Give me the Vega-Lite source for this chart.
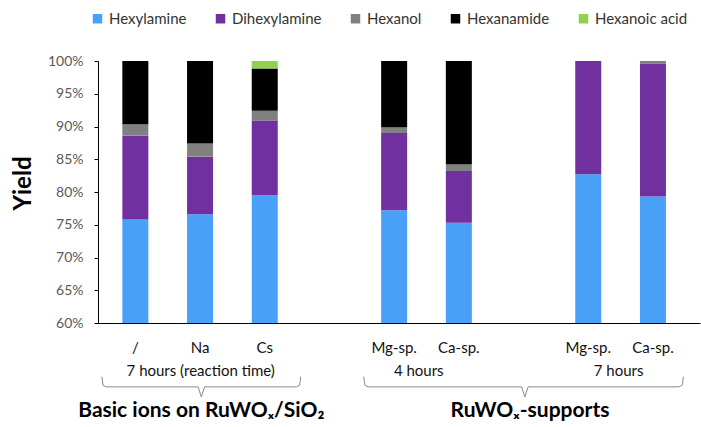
{
  "$schema": "https://vega.github.io/schema/vega-lite/v6.json",
  "width": 602,
  "height": 262,
  "autosize": "none",
  "padding": {"left": 98, "top": 61, "right": 1, "bottom": 104},
  "config": {
    "view": {"stroke": null},
    "font": "Lato",
    "axisX": {"labels": false, "ticks": false, "grid": false, "domainColor": "#000000", "domainWidth": 1},
    "axisY": {"labelOverlap": false, "grid": false, "domainColor": "#000000", "tickColor": "#000000", "tickSize": 4,
      "labelColor": "#595959", "labelFontSize": 14, "labelPadding": 11,
      "titleFontSize": 24, "titleFontWeight": "bold", "titleColor": "#000000", "titlePadding": 12, "titleY": 122}
  },
  "datasets": {
    "bars": [
      {"sample": "/", "x": 1, "compound": "Hexylamine", "yield": 75.8},
      {"sample": "/", "x": 1, "compound": "Dihexylamine", "yield": 12.8},
      {"sample": "/", "x": 1, "compound": "Hexanol", "yield": 1.75},
      {"sample": "/", "x": 1, "compound": "Hexanamide", "yield": 9.65},
      {"sample": "Na", "x": 2, "compound": "Hexylamine", "yield": 76.6},
      {"sample": "Na", "x": 2, "compound": "Dihexylamine", "yield": 8.8},
      {"sample": "Na", "x": 2, "compound": "Hexanol", "yield": 2.0},
      {"sample": "Na", "x": 2, "compound": "Hexanamide", "yield": 12.6},
      {"sample": "Cs", "x": 3, "compound": "Hexylamine", "yield": 79.5},
      {"sample": "Cs", "x": 3, "compound": "Dihexylamine", "yield": 11.4},
      {"sample": "Cs", "x": 3, "compound": "Hexanol", "yield": 1.5},
      {"sample": "Cs", "x": 3, "compound": "Hexanamide", "yield": 6.45},
      {"sample": "Cs", "x": 3, "compound": "Hexanoic acid", "yield": 1.15},
      {"sample": "Mg-sp.", "x": 5, "compound": "Hexylamine", "yield": 77.2},
      {"sample": "Mg-sp.", "x": 5, "compound": "Dihexylamine", "yield": 11.8},
      {"sample": "Mg-sp.", "x": 5, "compound": "Hexanol", "yield": 0.9},
      {"sample": "Mg-sp.", "x": 5, "compound": "Hexanamide", "yield": 10.1},
      {"sample": "Ca-sp.", "x": 6, "compound": "Hexylamine", "yield": 75.3},
      {"sample": "Ca-sp.", "x": 6, "compound": "Dihexylamine", "yield": 7.9},
      {"sample": "Ca-sp.", "x": 6, "compound": "Hexanol", "yield": 1.05},
      {"sample": "Ca-sp.", "x": 6, "compound": "Hexanamide", "yield": 15.75},
      {"sample": "Mg-sp.", "x": 8, "compound": "Hexylamine", "yield": 82.7},
      {"sample": "Mg-sp.", "x": 8, "compound": "Dihexylamine", "yield": 17.3},
      {"sample": "Ca-sp.", "x": 9, "compound": "Hexylamine", "yield": 79.3},
      {"sample": "Ca-sp.", "x": 9, "compound": "Dihexylamine", "yield": 20.3},
      {"sample": "Ca-sp.", "x": 9, "compound": "Hexanol", "yield": 0.4}
    ],
    "groups": [
      {"x": 2.01, "label": "7 hours (reaction time)"},
      {"x": 5.38, "label": "4 hours"},
      {"x": 8.47, "label": "7 hours"}
    ],
    "big": [
      {"x": 2.02, "label": "Basic ions on RuWOₓ/SiO₂"},
      {"x": 7.1, "label": "RuWOₓ-supports"}
    ],
    "braces": [
      {"b": 1, "i": 0, "x": 0.483, "y": 51.8},
      {"b": 1, "i": 1, "x": 0.5, "y": 50.5},
      {"b": 1, "i": 2, "x": 0.55, "y": 50.25},
      {"b": 1, "i": 3, "x": 1.97, "y": 50.25},
      {"b": 1, "i": 4, "x": 2.02, "y": 48.7},
      {"b": 1, "i": 5, "x": 2.07, "y": 50.25},
      {"b": 1, "i": 6, "x": 3.49, "y": 50.25},
      {"b": 1, "i": 7, "x": 3.54, "y": 50.5},
      {"b": 1, "i": 8, "x": 3.555, "y": 51.8},
      {"b": 2, "i": 0, "x": 4.53, "y": 51.8},
      {"b": 2, "i": 1, "x": 4.547, "y": 50.5},
      {"b": 2, "i": 2, "x": 4.6, "y": 50.25},
      {"b": 2, "i": 3, "x": 6.97, "y": 50.25},
      {"b": 2, "i": 4, "x": 7.02, "y": 48.7},
      {"b": 2, "i": 5, "x": 7.07, "y": 50.25},
      {"b": 2, "i": 6, "x": 9.4, "y": 50.25},
      {"b": 2, "i": 7, "x": 9.453, "y": 50.5},
      {"b": 2, "i": 8, "x": 9.47, "y": 51.8}
    ]
  },
  "layer": [
    {
      "data": {"name": "bars"},
      "transform": [
        {"calculate": "indexof(['Hexylamine','Dihexylamine','Hexanol','Hexanamide','Hexanoic acid'], datum.compound)", "as": "ord"}
      ],
      "mark": {"type": "bar", "size": 26, "clip": true},
      "encoding": {
        "x": {"field": "x", "type": "quantitative",
          "scale": {"domain": [0.5, 9.65], "nice": false, "zero": false},
          "axis": {"title": null}},
        "y": {"field": "yield", "type": "quantitative", "stack": "zero",
          "scale": {"domain": [60, 100], "nice": false, "zero": false},
          "axis": {"title": "Yield", "values": [60, 65, 70, 75, 80, 85, 90, 95, 100], "labelExpr": "datum.value + '%'"}},
        "color": {
          "field": "compound", "type": "nominal",
          "scale": {
            "domain": ["Hexylamine", "Dihexylamine", "Hexanol", "Hexanamide", "Hexanoic acid"],
            "range": ["#48A0F8", "#7030A0", "#808080", "#000000", "#92D050"]
          },
          "legend": {
            "orient": "none", "direction": "horizontal", "legendX": -8, "legendY": -50,
            "title": null, "symbolType": "square", "symbolSize": 90, "symbolStrokeWidth": 0,
            "labelFontSize": 15, "labelColor": "#333333", "columnPadding": 26, "labelOffset": 4
          }
        },
        "order": {"field": "ord", "type": "quantitative"}
      }
    },
    {
      "data": {"name": "bars"},
      "transform": [{"filter": "datum.compound === 'Hexylamine'"}],
      "mark": {"type": "text", "fontSize": 15, "color": "#111111", "baseline": "middle"},
      "encoding": {
        "x": {"field": "x", "type": "quantitative",
          "scale": {"domain": [0.5, 9.65], "nice": false, "zero": false},
          "axis": {"title": null}},
        "y": {"datum": 56.2, "type": "quantitative",
          "scale": {"domain": [60, 100], "nice": false, "zero": false},
          "axis": {"title": "Yield", "values": [60, 65, 70, 75, 80, 85, 90, 95, 100], "labelExpr": "datum.value + '%'"}},
        "text": {"field": "sample"}
      }
    },
    {
      "data": {"name": "groups"},
      "mark": {"type": "text", "fontSize": 15, "color": "#111111", "baseline": "middle"},
      "encoding": {
        "x": {"field": "x", "type": "quantitative",
          "scale": {"domain": [0.5, 9.65], "nice": false, "zero": false},
          "axis": {"title": null}},
        "y": {"datum": 52.6, "type": "quantitative",
          "scale": {"domain": [60, 100], "nice": false, "zero": false},
          "axis": {"title": "Yield", "values": [60, 65, 70, 75, 80, 85, 90, 95, 100], "labelExpr": "datum.value + '%'"}},
        "text": {"field": "label"}
      }
    },
    {
      "data": {"name": "braces"},
      "mark": {"type": "line", "color": "#8a8a8a", "strokeWidth": 1},
      "encoding": {
        "x": {"field": "x", "type": "quantitative",
          "scale": {"domain": [0.5, 9.65], "nice": false, "zero": false},
          "axis": {"title": null}},
        "y": {"field": "y", "type": "quantitative",
          "scale": {"domain": [60, 100], "nice": false, "zero": false},
          "axis": {"title": "Yield", "values": [60, 65, 70, 75, 80, 85, 90, 95, 100], "labelExpr": "datum.value + '%'"}},
        "detail": {"field": "b"},
        "order": {"field": "i", "type": "quantitative"}
      }
    },
    {
      "data": {"name": "big"},
      "mark": {"type": "text", "fontSize": 21, "fontWeight": "bold", "color": "#000000", "baseline": "middle"},
      "encoding": {
        "x": {"field": "x", "type": "quantitative",
          "scale": {"domain": [0.5, 9.65], "nice": false, "zero": false},
          "axis": {"title": null}},
        "y": {"datum": 46.6, "type": "quantitative",
          "scale": {"domain": [60, 100], "nice": false, "zero": false},
          "axis": {"title": "Yield", "values": [60, 65, 70, 75, 80, 85, 90, 95, 100], "labelExpr": "datum.value + '%'"}},
        "text": {"field": "label"}
      }
    }
  ]
}
